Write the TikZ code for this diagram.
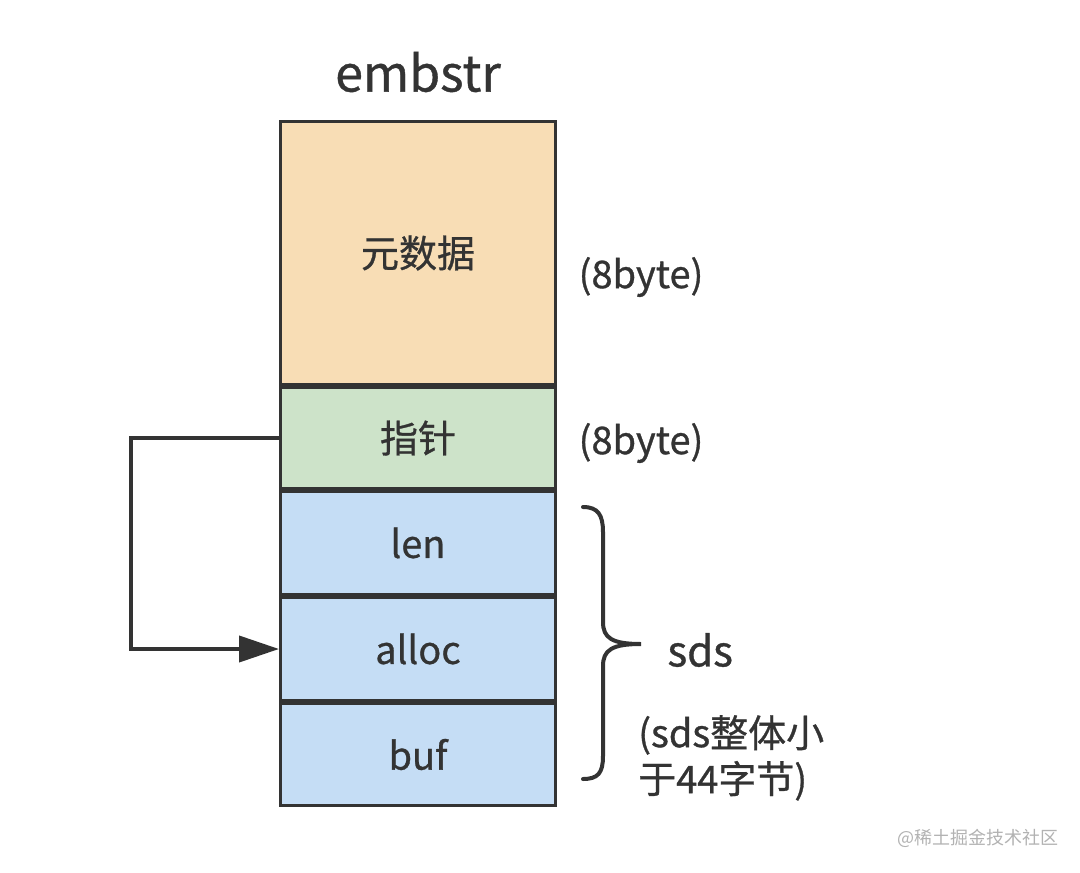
\documentclass[tikz,border=0pt]{standalone}
\usepackage{fontspec}
\setmainfont{Noto Sans CJK SC}[FakeBold=0.8]
\newfontfamily\markfont{Noto Sans CJK SC}
\usetikzlibrary{arrows.meta,positioning}
\definecolor{inkgray}{HTML}{333333}
\definecolor{metafill}{HTML}{F8DDB5}
\definecolor{ptrfill}{HTML}{CDE3C9}
\definecolor{sdsfill}{HTML}{C5DDF5}
\tikzset{
    layout diagram/.style = {x=1pt, y=-1pt, >={Triangle[length=40pt, width=26pt]},
                             text=inkgray, font=\fontsize{38}{46}\selectfont},
    cell/.style   = {draw=inkgray, line width=3pt, minimum width=275pt,
                     minimum height=100pt, inner sep=0pt},
    link/.style   = {draw=inkgray, line width=4pt},
    brace/.style  = {draw=inkgray, line width=4pt, line cap=round},
    note/.style   = {font=\fontsize{38}{46}\selectfont},
    watermark text/.style = {text=gray!60, font=\markfont\fontsize{18}{22}\selectfont}
}

\begin{document}
\begin{tikzpicture}[layout diagram]
\useasboundingbox (0,0) rectangle (1080,873);

% Object header followed by the embedded sds.
\node[cell, fill=metafill, minimum height=263pt] (meta) at (418,253) {元数据};
\node[cell, fill=ptrfill, minimum height=101pt, below=0pt of meta] (pointer) {指针};
\node[cell, fill=sdsfill, minimum height=103pt, below=0pt of pointer] (len) {len};
\node[cell, fill=sdsfill, minimum height=103pt, below=0pt of len] (alloc) {alloc};
\node[cell, fill=sdsfill, minimum height=102pt, below=0pt of alloc] (buf) {buf};

\node[font=\fontsize{50}{56}\selectfont] (title) at (418,72) {embstr};
\node[note] (meta-size) at (641,277) {(8byte)};
\node[note] (pointer-size) at (641,443) {(8byte)};

% Pointer back into the sds.
\coordinate (loop) at ([xshift=-148pt]pointer.west);
\draw[->, link] (pointer.west) -- (loop) |- (alloc.west);

% Brace over the sds fields.
\draw[brace] (583,507) .. controls (598,507) and (603,515) .. (603,532)
    -- (603,622) .. controls (603,638) and (612,644) .. (641,644)
    .. controls (612,644) and (603,650) .. (603,666)
    -- (603,756) .. controls (603,773) and (598,779) .. (583,779);
\node[font=\fontsize{42}{48}\selectfont, anchor=west] (sds) at (664,650) {sds};
\node[note, anchor=north west, align=left, inner sep=0pt] (sds-size) at (638,715)
    {(sds整体小\\于44字节)};

\node[watermark text] (watermark) at (978,838) {@稀土掘金技术社区};

\end{tikzpicture}
\end{document}
